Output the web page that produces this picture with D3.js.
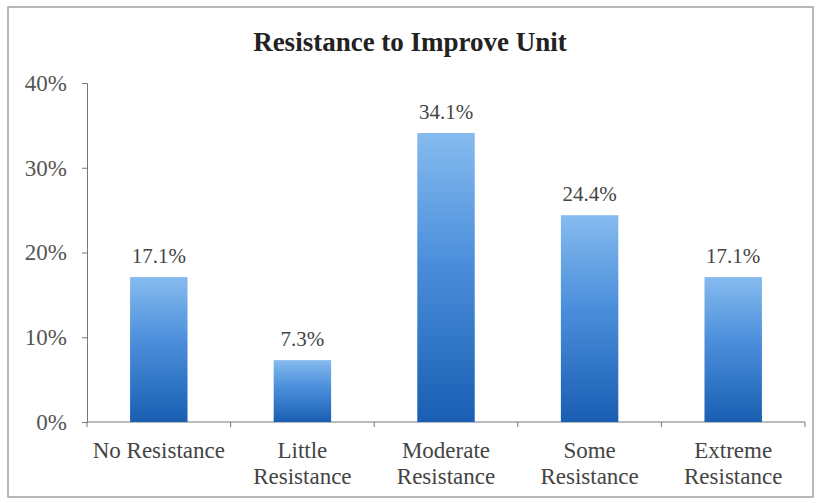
<!DOCTYPE html>
<html><head><meta charset="utf-8">
<script src="https://cdnjs.cloudflare.com/ajax/libs/d3/7.8.5/d3.min.js"></script>
<style>body{margin:0;background:#fff}</style>
</head><body>
<svg id="c" width="820" height="503"></svg>
<script>
const categories = [["No Resistance"], ["Little", "Resistance"], ["Moderate", "Resistance"], ["Some", "Resistance"], ["Extreme", "Resistance"]];
const values = [17.1, 7.3, 34.1, 24.4, 17.1];
const valueLabels = ["17.1%", "7.3%", "34.1%", "24.4%", "17.1%"];
const yTicks = [0, 10, 20, 30, 40];
const title = "Resistance to Improve Unit";

const svg = d3.select("#c");
const font = "'Liberation Serif', 'DejaVu Serif', serif";
const pLeft = 87, pRight = 805, pTop = 83, pBottom = 422;

svg.append("rect").attr("x", 8).attr("y", 7).attr("width", 805).attr("height", 490)
  .attr("fill", "#fff").attr("stroke", "#a0a0a0").attr("stroke-width", 1.5);

const defs = svg.append("defs");
const g = defs.append("linearGradient").attr("id", "grad").attr("x1", 0).attr("y1", 0).attr("x2", 0).attr("y2", 1);
g.append("stop").attr("offset", "0%").attr("stop-color", "#86bbef");
g.append("stop").attr("offset", "45%").attr("stop-color", "#4a8edb");
g.append("stop").attr("offset", "100%").attr("stop-color", "#1a5eb3");

const x = d3.scaleBand().domain(d3.range(values.length)).range([pLeft, pRight]).paddingInner(0.6).paddingOuter(0.3);
const y = d3.scaleLinear().domain([0, 40]).range([pBottom, pTop]);

svg.append("text").attr("x", 410).attr("y", 51).attr("text-anchor", "middle")
  .attr("font-family", font).attr("font-weight", "bold").attr("font-size", 27).attr("fill", "#222")
  .text(title);

const xb = d3.scaleBand().domain(d3.range(values.length)).range([pLeft, pRight]);

const yAxis = svg.append("g").attr("transform", `translate(${pLeft},0)`)
  .call(d3.axisLeft(y).tickValues(yTicks).tickFormat(d => d + "%").tickSize(5));
yAxis.select(".domain").attr("stroke", "#777");
yAxis.selectAll(".tick line").attr("stroke", "#777");
yAxis.selectAll("text").attr("font-family", font).attr("font-size", 23).attr("fill", "#555").attr("dx", "-12");

const xAxis = svg.append("g").attr("transform", `translate(0,${pBottom})`);
xAxis.append("line").attr("x1", pLeft).attr("x2", pRight).attr("stroke", "#777");
xAxis.selectAll("line.t").data(d3.range(values.length + 1)).join("line").attr("class", "t")
  .attr("x1", i => pLeft + i * xb.bandwidth()).attr("x2", i => pLeft + i * xb.bandwidth())
  .attr("y1", 0).attr("y2", 5).attr("stroke", "#777");

svg.selectAll("rect.bar").data(values).join("rect").attr("class", "bar")
  .attr("x", (d, i) => x(i)).attr("width", x.bandwidth())
  .attr("y", d => y(d)).attr("height", d => y(0) - y(d))
  .attr("fill", "url(#grad)");

svg.selectAll("text.val").data(values).join("text").attr("class", "val")
  .attr("x", (d, i) => x(i) + x.bandwidth() / 2).attr("y", d => y(d) - 14)
  .attr("text-anchor", "middle").attr("font-family", font).attr("font-size", 21).attr("fill", "#444")
  .text((d, i) => valueLabels[i]);

categories.forEach((lines, i) => {
  const t = svg.append("text").attr("x", xb(i) + xb.bandwidth() / 2).attr("y", 458)
    .attr("text-anchor", "middle").attr("font-family", font).attr("font-size", 23).attr("fill", "#444");
  lines.forEach((l, k) => t.append("tspan").attr("x", xb(i) + xb.bandwidth() / 2).attr("dy", k ? 26 : 0).text(l));
});
</script>
</body></html>
